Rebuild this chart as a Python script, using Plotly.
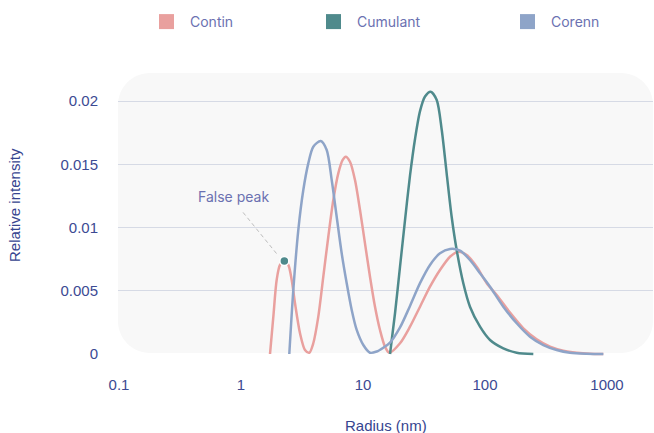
import math
import plotly.graph_objects as go

# ---------------- data ----------------
contin_radius = [1.729, 1.841, 1.960, 2.088, 2.266, 2.441, 2.604, 2.771, 3.045, 3.346,
                 3.629, 3.913, 4.301, 4.727, 5.195, 5.709, 6.273, 6.816, 7.215, 7.823,
                 8.598, 9.450, 10.38, 11.41, 12.54, 13.78, 15.15, 16.43, 20.11, 24.28,
                 29.33, 35.42, 42.77, 51.66, 60.45, 70.8, 85.5, 103.3, 124.8, 160.3,
                 206.3, 265.2, 341.2, 438.4, 564.6, 726, 933]
contin_intensity = [0, 0.00295, 0.00585, 0.00704, 0.00735, 0.00704, 0.00585, 0.00401, 0.00164, 0.00032,
                    0.0001, 0.00085, 0.00295, 0.00611, 0.00927, 0.01217, 0.01428, 0.01534, 0.0156, 0.0152,
                    0.01375, 0.01138, 0.00875, 0.00611, 0.00374, 0.0019, 0.00058, 0.0001, 0.00085, 0.00216,
                    0.00374, 0.00532, 0.00664, 0.00769, 0.00809, 0.00783, 0.0069, 0.00559, 0.00466, 0.00327,
                    0.00203, 0.00116, 0.00058, 0.00026, 0.0001, 0.00002, 0]

cumulant_radius = [16.65, 18.30, 20.11, 22.10, 24.28, 26.69, 29.33, 32.23, 35.9, 40.2,
                   44.2, 48.5, 53.3, 58.6, 66.4, 75.3, 91.0, 109.9, 141.3, 181.8, 248.9]
cumulant_intensity = [0, 0.00322, 0.0069, 0.01059, 0.0141, 0.0170, 0.0192, 0.02035, 0.02074, 0.02008,
                      0.01771, 0.01428, 0.01085, 0.00822, 0.00559, 0.00374, 0.00216, 0.00111, 0.00045, 0.0001, 0]

corenn_radius = [2.488, 2.684, 2.949, 3.241, 3.561, 3.913, 4.501, 5.041, 5.540, 6.086,
                 6.688, 7.353, 8.080, 8.879, 10.06, 11.41, 12.95, 14.67, 16.65, 20.11,
                 24.28, 29.33, 35.42, 42.77, 51.66, 62.4, 75.3, 91.0, 109.9, 141.3,
                 181.8, 233.8, 300.9, 386.9, 497.6, 682, 933]
corenn_intensity = [0, 0.00506, 0.0098, 0.01296, 0.01507, 0.01639, 0.01684, 0.01613, 0.01375, 0.01085,
                    0.00796, 0.00559, 0.00348, 0.0019, 0.00071, 0.0001, 0.0002, 0.0005, 0.0009, 0.0021,
                    0.0038, 0.0056, 0.00704, 0.00796, 0.0083, 0.00817, 0.00743, 0.00638, 0.00532, 0.00374,
                    0.00243, 0.00137, 0.00071, 0.00032, 0.0001, 0.00002, 0]

false_peak_radius = [2.266]
false_peak_intensity = [0.00735]
false_peak_label = "False peak"

x_tick_values = [0.1, 1, 10, 100, 1000]
x_tick_labels = ["0.1", "1", "10", "100", "1000"]
y_tick_values = [0, 0.005, 0.01, 0.015, 0.02]
y_tick_labels = ["0", "0.005", "0.01", "0.015", "0.02"]

series_names = ["Contin", "Cumulant", "Corenn"]

# ---------------- styling ----------------
C_CONTIN = "#E9A09E"
C_CUMULANT = "#4F8A8C"
C_CORENN = "#8EA4C8"
TICK_COLOR = "#3C4A93"
TITLE_COLOR = "#36458F"
LEGEND_COLOR = "#6B71B1"
GRID_COLOR = "#D6DAE5"
BG_RECT = "#F8F8F8"

W, H = 654, 433
ML, MR, MT, MB = 118, 1, 73, 76
PW, PH = W - ML - MR, H - MT - MB


def px_x(px):
    return (px - ML) / PW


def px_y(py):
    return (H - MB - py) / PH


fig = go.Figure()

series = [
    (series_names[0], contin_radius, contin_intensity, C_CONTIN, "legend"),
    (series_names[1], cumulant_radius, cumulant_intensity, C_CUMULANT, "legend2"),
    (series_names[2], corenn_radius, corenn_intensity, C_CORENN, "legend3"),
]

for name, xs, ys, col, lg in series:
    fig.add_trace(go.Scatter(
        x=xs, y=ys, mode="lines", name=name, showlegend=False,
        line=dict(color=col, width=2.5, shape="spline", smoothing=0.8),
        hoverinfo="skip",
    ))

# legend entries (square swatches)
for name, xs, ys, col, lg in series:
    fig.add_trace(go.Scatter(
        x=[None], y=[None], mode="markers", name=name, legend=lg,
        marker=dict(symbol="square", size=15, color=col),
    ))

# false peak dot
fig.add_trace(go.Scatter(
    x=false_peak_radius, y=false_peak_intensity, mode="markers", showlegend=False,
    marker=dict(size=9, color=C_CUMULANT, line=dict(color="white", width=1.5)),
    hoverinfo="skip",
))

# rounded background rectangle (paper coordinates)
r = 32
rx, ry = r / PW, r / PH
k = 0.5523
x0, x1 = px_x(118), px_x(653)
yt, yb = px_y(73), px_y(353)
path = (
    f"M {x0+rx},{yt} L {x1-rx},{yt} "
    f"C {x1-rx+k*rx},{yt} {x1},{yt-ry+k*ry} {x1},{yt-ry} "
    f"L {x1},{yb+ry} "
    f"C {x1},{yb+ry-k*ry} {x1-rx+k*rx},{yb} {x1-rx},{yb} "
    f"L {x0+rx},{yb} "
    f"C {x0+rx-k*rx},{yb} {x0},{yb+ry-k*ry} {x0},{yb+ry} "
    f"L {x0},{yt-ry} "
    f"C {x0},{yt-ry+k*ry} {x0+rx-k*rx},{yt} {x0+rx},{yt} Z"
)
shapes = [
    dict(type="path", xref="paper", yref="paper", path=path,
         fillcolor=BG_RECT, line=dict(width=0), layer="below"),
    # dashed leader line of the "False peak" label
    dict(type="line", xref="paper", yref="paper",
         x0=px_x(276.5), y0=px_y(253.5), x1=px_x(241.5), y1=px_y(210.5),
         line=dict(color="#BDBDBD", width=1, dash="4px,3px")),
]

annotations = [
    dict(text=false_peak_label, xref="x", yref="y",
         x=math.log10(false_peak_radius[0]), y=false_peak_intensity[0],
         xshift=-51, yshift=65, showarrow=False, xanchor="center", yanchor="middle",
         font=dict(family="Inter", size=14, color=LEGEND_COLOR)),
    dict(text="Radius (nm)", xref="paper", yref="paper", x=0.5, y=0,
         yshift=-68, showarrow=False, xanchor="center", yanchor="middle",
         font=dict(family="Liberation Sans", size=15, color=TITLE_COLOR)),
    dict(text="Relative intensity", xref="paper", yref="paper", x=0,
         y=px_y(205), xshift=-104, showarrow=False, textangle=-90,
         xanchor="center", yanchor="middle",
         font=dict(family="Liberation Sans", size=15, color=TITLE_COLOR)),
]

legend_common = dict(
    xref="container", yref="container", xanchor="left", yanchor="middle",
    orientation="h", itemwidth=37, bgcolor="rgba(0,0,0,0)", borderwidth=0,
    font=dict(family="Inter", size=14, color=LEGEND_COLOR),
)
ly = 1 - 22 / H

fig.update_layout(
    width=W, height=H,
    margin=dict(l=ML, r=MR, t=MT, b=MB, autoexpand=False),
    paper_bgcolor="white", plot_bgcolor="rgba(0,0,0,0)",
    shapes=shapes, annotations=annotations,
    legend=dict(x=143 / W, y=ly, **legend_common),
    legend2=dict(x=310 / W, y=ly, **legend_common),
    legend3=dict(x=504 / W, y=ly, **legend_common),
    xaxis=dict(
        type="log", range=[-1.0082, 3.377],
        tickmode="array", tickvals=x_tick_values, ticktext=x_tick_labels,
        showgrid=False, zeroline=False, showline=False, ticks="",
        ticklabelstandoff=17,
        tickfont=dict(family="Liberation Sans", size=15, color=TICK_COLOR),
    ),
    yaxis=dict(
        range=[-3 / 12650, 284 / 12650 - 3 / 12650],
        tickmode="array", tickvals=y_tick_values, ticktext=y_tick_labels,
        showgrid=True, gridcolor=GRID_COLOR, gridwidth=1,
        zeroline=True, zerolinecolor="rgba(0,0,0,0)", showline=False, ticks="",
        ticklabelstandoff=19,
        tickfont=dict(family="Liberation Sans", size=15, color=TICK_COLOR),
    ),
)

fig.write_html("out.html", config={"displayModeBar": False},
               post_script="document.body.style.margin='0px';")
